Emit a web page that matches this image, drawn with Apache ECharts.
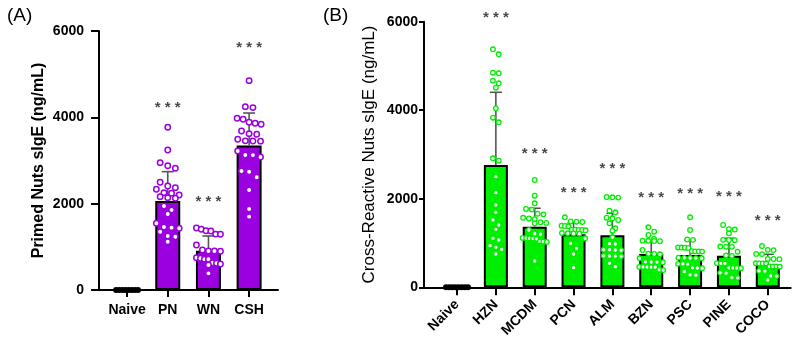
<!DOCTYPE html>
<html>
<head>
<meta charset="utf-8">
<script src="https://cdn.jsdelivr.net/npm/echarts@6/dist/echarts.min.js"></script>
<style>html,body{margin:0;padding:0;background:#fff}#c{width:800px;height:351px}</style>
</head>
<body>
<div id="c"></div>
<script>
// ---------- Panel A data ----------
const catsA = ['Naive', 'PN', 'WN', 'CSH'];
const meansA = [0, 2062, 911, 3345];
const sdA = [0, 680, 340, 755];
const starsA = [null, 4210, 2046, 5600];
const naiveA = [0, 0, 0, 0, 0, 0, 0, 0];
const ptsPN = [3769, 3244, 2950, 2880, 2819, 2495, 2371, 2333, 2410, 2240, 2255, 2201, 2139, 2124, 2162, 1854, 1946, 1761, 1444, 1460, 1545, 1429, 1351, 1251, 1235, 1119];
const ptsWN = [1367, 1372, 1437, 1406, 1290, 1295, 1043, 902, 905, 926, 898, 734, 711, 715, 749, 633, 579, 602, 618, 386];
const ptsCSH = [4850, 4248, 4225, 3978, 3955, 3839, 3885, 3862, 3684, 3607, 3622, 3452, 3455, 3491, 3448, 3128, 3082, 3125, 3221, 2741, 2757, 2611, 2317, 1877, 1699];

// ---------- Panel B data ----------
const catsB = ['Naive', 'HZN', 'MCDM', 'PCN', 'ALM', 'BZN', 'PSC', 'PINE', 'COCO'];
const meansB = [0, 2763, 1369, 1197, 1175, 752, 730, 714, 526];
const sdB = [0, 1642, 416, 262, 497, 278, 339, 393, 219];
const starsB = [null, 6077, 3011, 2137, 2672, 2024, 2101, 2047, 1505];
const naiveB = [0, 0, 0, 0, 0, 0, 0, 0];
const ptsHZN = [5376, 5263, 4848, 4834, 4667, 4608, 4509, 4043, 3831, 3727, 2860, 2914, 2498, 2137, 1859, 1694, 1520, 1407, 1310, 1107, 1069, 940, 904, 858, 752];
const ptsMCDM = [2424, 2069, 1898, 1770, 1755, 1662, 1648, 1570, 1555, 1540, 1470, 1455, 1445, 1294, 1210, 1198, 1115, 1108, 1100, 1112, 1095, 1038, 1025, 1030, 594];
const ptsPCN = [1581, 1490, 1482, 1475, 1392, 1385, 1378, 1300, 1294, 1288, 1296, 1302, 1225, 1220, 1215, 1212, 1107, 994, 881, 752, 443];
const ptsALM = [2040, 2033, 2026, 1730, 1694, 1572, 1520, 1559, 1446, 1333, 1279, 1129, 850, 843, 838, 848, 712, 707, 700, 705, 978, 985, 465, 542];
const ptsBZN = [1355, 1256, 1181, 1091, 1050, 1046, 1040, 1052, 843, 758, 752, 746, 655, 575, 571, 566, 570, 462, 459, 455, 460, 458, 395, 388];
const ptsPSC = [1581, 1294, 1080, 1072, 900, 895, 890, 898, 812, 806, 809, 815, 665, 660, 662, 658, 670, 530, 527, 524, 440, 436, 432, 353, 282, 275];
const ptsPINE = [1407, 1315, 1305, 1220, 1072, 1069, 1065, 920, 917, 914, 804, 718, 710, 545, 542, 540, 440, 436, 432, 438, 326, 320, 220, 214];
const ptsCOCO = [933, 846, 840, 755, 750, 642, 639, 636, 540, 538, 536, 542, 472, 470, 468, 471, 370, 366, 257, 253, 165];

const groupsA = [naiveA, ptsPN, ptsWN, ptsCSH];
const groupsB = [naiveB, ptsHZN, ptsMCDM, ptsPCN, ptsALM, ptsBZN, ptsPSC, ptsPINE, ptsCOCO];

// ---------- layout / style ----------
const FONT = 'Liberation Sans, Arial, Helvetica, sans-serif';
const PURPLE = '#9A00E0';
const GREEN = '#00EE00';
const gridA = { left: 99, top: 31, width: 179, height: 259 };
const gridB = { left: 424, top: 21.7, width: 366.7, height: 265.6 };
const yMax = 6000;

// row-based dot layout (GraphPad style scatter): returns [value, pixelOffset]
function swarm(values, binVal, spacing, maxSpan) {
  const sorted = values.slice().sort((a, b) => b - a);
  const rows = [];
  let cur = null;
  sorted.forEach(v => {
    if (cur && cur[0] - v < binVal) cur.push(v);
    else { cur = [v]; rows.push(cur); }
  });
  const out = [];
  rows.forEach(r => {
    const n = r.length;
    const sp = n > 1 ? Math.min(spacing, maxSpan / (n - 1)) : 0;
    r.forEach((v, k) => out.push([v, (k - (n - 1) / 2) * sp]));
  });
  return out;
}

function dotData(groups, binPx, gridH, spacing, maxSpan) {
  const binVal = binPx * yMax / gridH;
  const data = [];
  groups.forEach((g, i) => {
    swarm(g, binVal, spacing, i === 0 ? maxSpan - 2 : maxSpan).forEach(([v, off]) => data.push([i, v, off]));
  });
  return data;
}

function dotSeries(xi, data, color, r, lw) {
  return {
    type: 'custom', xAxisIndex: xi, yAxisIndex: xi, z: 5,
    renderItem: (params, api) => {
      const idx = api.value(0);
      const p = api.coord([idx, api.value(1)]);
      const naive = idx === 0;
      return {
        type: 'circle',
        shape: { cx: p[0] + api.value(2), cy: p[1], r: naive ? 3 : r },
        style: naive ? { fill: '#000' } : { fill: '#fff', stroke: color, lineWidth: lw }
      };
    },
    data: data
  };
}

function errSeries(xi, means, sds) {
  const data = means.map((m, i) => [i, m, m + sds[i]]).filter(d => d[2] > d[1]);
  return {
    type: 'custom', xAxisIndex: xi, yAxisIndex: xi, z: 4,
    renderItem: (params, api) => {
      const a = api.coord([api.value(0), api.value(1)]);
      const b = api.coord([api.value(0), api.value(2)]);
      const st = { stroke: '#555', lineWidth: 1.6 };
      return {
        type: 'group', children: [
          { type: 'line', shape: { x1: a[0], y1: a[1], x2: b[0], y2: b[1] }, style: st },
          { type: 'line', shape: { x1: b[0] - 6, y1: b[1], x2: b[0] + 6, y2: b[1] }, style: st }
        ]
      };
    },
    data: data
  };
}

function barSeries(xi, means, color, w) {
  return {
    type: 'bar', xAxisIndex: xi, yAxisIndex: xi, barWidth: w, z: 2,
    itemStyle: { color: color, borderColor: '#000', borderWidth: 2 },
    data: means.map((m, i) => [i, m])
  };
}

function starSeries(xi, stars) {
  return {
    type: 'scatter', xAxisIndex: xi, yAxisIndex: xi, symbolSize: 0, clip: false, z: 6,
    label: { show: true, position: 'inside', formatter: '* * *', color: '#1a1a1a', fontSize: 15, fontWeight: 'bold', fontFamily: FONT },
    data: stars.map((s, i) => [i, s]).filter(d => d[1] != null)
  };
}

const ticksA = catsA.map((c, i) => i);
const ticksB = catsB.map((c, i) => i);

const axisLine = { show: true, onZero: false, lineStyle: { color: '#000', width: 2 } };

const option = {
  animation: false,
  backgroundColor: '#fff',
  title: [
    { text: '(A)', left: 2, top: 1, textStyle: { fontFamily: FONT, fontSize: 19, fontWeight: 'normal', color: '#000' } },
    { text: '(B)', left: 318, top: 1, textStyle: { fontFamily: FONT, fontSize: 19, fontWeight: 'normal', color: '#000' } }
  ],
  grid: [
    Object.assign({ containLabel: false }, gridA),
    Object.assign({ containLabel: false }, gridB)
  ],
  xAxis: [
    {
      gridIndex: 0, type: 'value', min: -0.69, max: 3.71,
      axisLine: axisLine,
      axisTick: { show: true, customValues: ticksA, length: 7, lineStyle: { color: '#000', width: 2 } },
      axisLabel: { customValues: ticksA, formatter: v => catsA[Math.round(v)], fontFamily: FONT, fontWeight: 'bold', fontSize: 14, color: '#000', margin: 13 },
      splitLine: { show: false }
    },
    {
      gridIndex: 1, type: 'value', min: -0.85, max: 8.59,
      axisLine: axisLine,
      axisTick: { show: true, customValues: ticksB, length: 8, lineStyle: { color: '#000', width: 2 } },
      axisLabel: { customValues: ticksB, formatter: v => catsB[Math.round(v)], rotate: 45, fontFamily: FONT, fontWeight: 'bold', fontSize: 14, color: '#000', margin: 15 },
      splitLine: { show: false }
    }
  ],
  yAxis: [
    {
      gridIndex: 0, type: 'value', min: 0, max: yMax, interval: 2000,
      axisLine: axisLine,
      axisTick: { show: true, length: 8, lineStyle: { color: '#000', width: 2 } },
      axisLabel: { formatter: v => String(v), fontFamily: FONT, fontWeight: 'bold', fontSize: 14, color: '#000', margin: 15 },
      splitLine: { show: false },
      name: 'Primed Nuts sIgE (ng/mL)', nameLocation: 'middle', nameGap: 52,
      nameTextStyle: { fontFamily: FONT, fontWeight: 'bold', fontSize: 16, color: '#000' }
    },
    {
      gridIndex: 1, type: 'value', min: 0, max: yMax, interval: 2000,
      axisLine: axisLine,
      axisTick: { show: true, length: 5, lineStyle: { color: '#000', width: 2 } },
      axisLabel: { formatter: v => String(v), fontFamily: FONT, fontWeight: 'bold', fontSize: 14, color: '#000', margin: 6 },
      splitLine: { show: false },
      name: 'Cross-Reactive Nuts sIgE (ng/mL)', nameLocation: 'middle', nameGap: 46,
      nameTextStyle: { fontFamily: FONT, fontWeight: 'normal', fontSize: 17, color: '#000' }
    }
  ],
  series: [
    barSeries(0, meansA, PURPLE, 25),
    errSeries(0, meansA, sdA),
    dotSeries(0, dotData(groupsA, 6.5, gridA.height, 7.6, 24), PURPLE, 2.7, 1.5),
    starSeries(0, starsA),
    barSeries(1, meansB, GREEN, 24),
    errSeries(1, meansB, sdB),
    dotSeries(1, dotData(groupsB, 5.5, gridB.height, 5.8, 24), GREEN, 2.3, 1.3),
    starSeries(1, starsB)
  ]
};

const chart = echarts.init(document.getElementById('c'), null, { renderer: 'canvas' });
chart.setOption(option);
</script>
</body>
</html>
